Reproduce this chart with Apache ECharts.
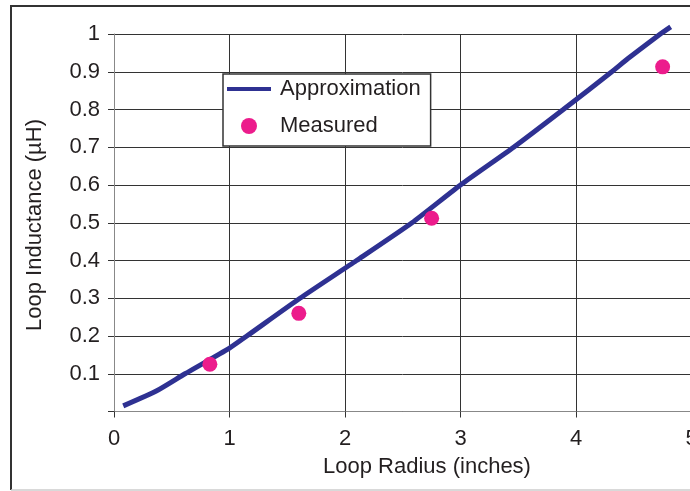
<!DOCTYPE html>
<html>
<head>
<meta charset="utf-8">
<script src="https://cdn.jsdelivr.net/npm/echarts@6/dist/echarts.min.js"></script>
<style>
  html, body { margin: 0; padding: 0; background: #fff; }
  #chart { width: 690px; height: 491px; }
</style>
</head>
<body>
<div id="chart"></div>
<script>
// Approximation curve: loop radius (inches) vs. inductance (µH)
const approxRadius = [0.08, 0.37, 0.615, 1.0, 1.15, 1.61, 2.1, 2.58, 3.0, 3.46, 3.89, 4.31, 4.45, 4.73, 4.82];
const approxInductance = [0.015, 0.055, 0.1, 0.168, 0.2, 0.3, 0.4, 0.5, 0.6, 0.7, 0.8, 0.9, 0.935, 1.0, 1.019];

// Measured points
const measuredRadius = [0.83, 1.6, 2.75, 4.75];
const measuredInductance = [0.125, 0.26, 0.512, 0.913];

// Tick labels
const xTickLabels = ['0', '1', '2', '3', '4', '5'];
const yTickLabels = ['', '0.1', '0.2', '0.3', '0.4', '0.5', '0.6', '0.7', '0.8', '0.9', '1'];

const textColor = '#231f20';
const fontFamily = '"Liberation Sans", Arial, Helvetica, sans-serif';
const fontSize = 22;

const chart = echarts.init(document.getElementById('chart'), null, { renderer: 'canvas' });

chart.setOption({
  backgroundColor: '#ffffff',
  animation: false,
  textStyle: { fontFamily: fontFamily, color: textColor },
  grid: { left: 114, top: 34, width: 577.5, height: 377.5, containLabel: false, outerBoundsMode: 'none' },
  xAxis: {
    type: 'value',
    min: 0, max: 5, interval: 1,
    axisLine: { show: true, lineStyle: { color: '#888', width: 1 } },
    axisTick: { show: true, length: 6, lineStyle: { color: '#333' } },
    axisLabel: {
      margin: 16, fontSize: fontSize, color: textColor, fontFamily: fontFamily,
      formatter: (v, i) => xTickLabels[i]
    },
    splitLine: { show: true, lineStyle: { color: '#333', width: 1 } }
  },
  yAxis: {
    type: 'value',
    min: 0, max: 1, interval: 0.1,
    axisLine: { show: true, lineStyle: { color: '#888', width: 1 } },
    axisTick: { show: true, length: 6, lineStyle: { color: '#333' } },
    axisLabel: {
      margin: 14, fontSize: fontSize, color: textColor, fontFamily: fontFamily,
      formatter: (v, i) => yTickLabels[i]
    },
    splitLine: { show: true, lineStyle: { color: '#333', width: 1 } }
  },
  legend: {
    orient: 'vertical',
    left: 223, top: 74,
    padding: [4, 10, 9, 4],
    itemGap: 15,
    itemWidth: 44, itemHeight: 16,
    backgroundColor: '#ffffff',
    borderColor: '#333',
    borderWidth: 1.5,
    textStyle: { fontSize: fontSize, color: textColor, fontFamily: fontFamily, padding: [0, 0, 0, 4] },
    data: [
      { name: 'Approximation', icon: 'path://M0,0H44V4H0Z' },
      { name: 'Measured', icon: 'circle' }
    ]
  },
  series: [
    {
      name: 'Approximation',
      type: 'line',
      data: approxRadius.map((r, i) => [r, approxInductance[i]]),
      showSymbol: false,
      symbol: 'none',
      smooth: 0.2,
      clip: false,
      lineStyle: { color: '#2e3192', width: 5 },
      itemStyle: { color: '#2e3192' },
      z: 3
    },
    {
      name: 'Measured',
      type: 'scatter',
      data: measuredRadius.map((r, i) => [r, measuredInductance[i]]),
      symbol: 'circle',
      symbolSize: 15,
      itemStyle: { color: '#ec1c8c', opacity: 1 },
      z: 4
    }
  ],
  graphic: [
    // frame around the figure
    { type: 'line', shape: { x1: 11, y1: 6, x2: 11, y2: 490 }, style: { stroke: '#333', lineWidth: 2 } },
    { type: 'line', shape: { x1: 10, y1: 6, x2: 690, y2: 6 }, style: { stroke: '#333', lineWidth: 2 } },
    { type: 'line', shape: { x1: 11, y1: 490, x2: 690, y2: 490 }, style: { stroke: '#ccc', lineWidth: 1.5 } },
    // axis titles
    {
      type: 'text', x: 427, y: 467,
      style: { text: 'Loop Radius (inches)', fill: textColor, font: fontSize + 'px ' + fontFamily, textAlign: 'center', textVerticalAlign: 'middle' }
    },
    {
      type: 'text', x: 35, y: 225, rotation: Math.PI / 2,
      style: { text: 'Loop Inductance (µH)', fill: textColor, font: fontSize + 'px ' + fontFamily, textAlign: 'center', textVerticalAlign: 'middle' }
    }
  ]
});
</script>
</body>
</html>
